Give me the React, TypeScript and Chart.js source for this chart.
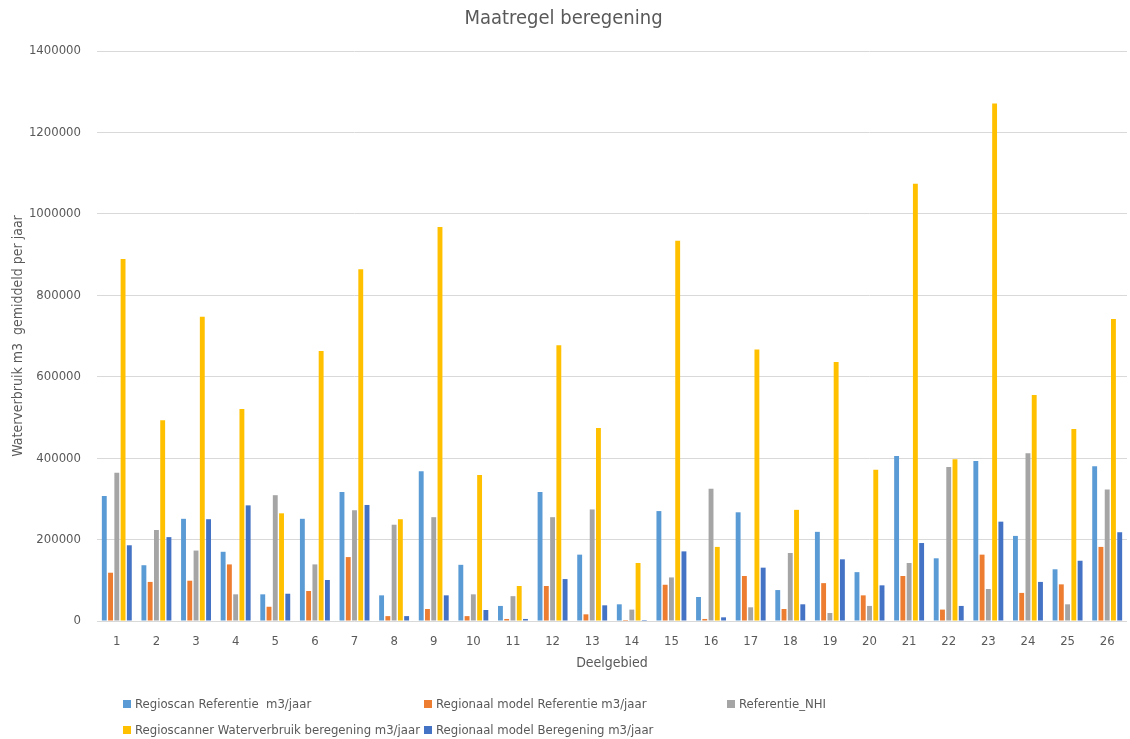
import React, { useEffect, useRef } from "react";
import { Chart, registerables } from "chart.js";

Chart.register(...registerables);

const categories = Array.from({ length: 26 }, (_, i) => String(i + 1));

const seriesNames = [
  "Regioscan Referentie  m3/jaar",
  "Regionaal model Referentie m3/jaar",
  "Referentie_NHI",
  "Regioscanner Waterverbruik beregening m3/jaar",
  "Regionaal model Beregening m3/jaar",
];

const seriesColors = ["#5B9BD5", "#ED7D31", "#A5A5A5", "#FFC000", "#4472C4"];

const regioscanReferentie = [
  307000, 137000, 251000, 170000, 65500, 251000, 317000, 63000, 368000, 138000,
  37000, 317000, 163000, 41000, 270000, 59000, 267000, 76000, 219000, 120000,
  405000, 154000, 393000, 209000, 127000, 380000,
];
const regionaalReferentie = [
  118600, 96000, 99000, 139000, 35000, 73700, 157000, 12000, 29500, 12000,
  5000, 86000, 16400, 2500, 89000, 5000, 110500, 29500, 93000, 63000,
  110500, 28000, 163000, 69000, 90000, 182000,
];
const referentieNHI = [
  364000, 223500, 173000, 65500, 309000, 139000, 272000, 236500, 255000, 65500,
  61000, 255000, 274000, 28000, 107000, 325000, 33600, 167000, 19600, 37000,
  142500, 378000, 78600, 412000, 41000, 323000,
];
const regioscannerBeregening = [
  889000, 493000, 747000, 521000, 264500, 663000, 864000, 250000, 968000, 358600,
  86000, 677000, 474000, 142500, 934000, 182000, 667000, 273000, 636000, 371700,
  1074000, 397000, 1271000, 555000, 471500, 742000,
];
const regionaalBeregening = [
  186000, 206000, 250000, 284000, 67000, 100700, 285000, 12000, 63000, 27000,
  5000, 103000, 38500, 2500, 171000, 9000, 131000, 41000, 151500, 87600,
  191500, 37000, 244000, 96000, 148000, 218000,
];

const allSeries = [
  regioscanReferentie,
  regionaalReferentie,
  referentieNHI,
  regioscannerBeregening,
  regionaalBeregening,
];

const yTicks = [0, 200000, 400000, 600000, 800000, 1000000, 1200000, 1400000];

const FONT = "'Liberation Sans Narrow', 'DejaVu Sans Condensed', sans-serif";
const TXT = "#595959";

export default function App() {
  const canvasRef = useRef<HTMLCanvasElement | null>(null);

  useEffect(() => {
    document.body.style.margin = "0";
    const canvas = canvasRef.current;
    if (!canvas) return;
    const chart = new Chart(canvas, {
      type: "bar",
      data: {
        labels: categories,
        datasets: allSeries.map((data, i) => ({
          label: seriesNames[i],
          data,
          backgroundColor: seriesColors[i],
          borderWidth: 0,
          categoryPercentage: 0.79,
          barPercentage: 0.78,
        })),
      },
      options: {
        responsive: false,
        animation: false,
        layout: { padding: { left: 0, right: 3, top: 0, bottom: 58 } },
        plugins: {
          legend: { display: false },
          tooltip: { enabled: false },
          title: {
            display: true,
            text: "Maatregel beregening",
            color: TXT,
            font: { family: FONT, size: 20, weight: "normal" },
            padding: { top: 7, bottom: 20 },
          },
        },
        scales: {
          x: {
            grid: { display: false, drawTicks: false },
            border: { display: false },
            ticks: {
              color: TXT,
              font: { family: FONT, size: 13 },
              padding: 13,
              maxRotation: 0,
            },
            title: {
              display: true,
              text: "Deelgebied",
              color: TXT,
              font: { family: FONT, size: 14 },
              padding: { top: 0, bottom: 9.6 },
            },
            afterFit: (scale: any) => {
              scale.height = 60;
            },
          },
          y: {
            min: 0,
            max: 1400000,
            afterBuildTicks: (scale: any) => {
              scale.ticks = yTicks.map((v) => ({ value: v }));
            },
            grid: { color: "#D9D9D9", lineWidth: 1, drawTicks: false },
            border: { display: false },
            ticks: {
              color: TXT,
              font: { family: FONT, size: 13 },
              padding: 16,
              callback: (v: any) => String(v),
            },
            title: {
              display: true,
              text: "Waterverbruik m3  gemiddeld per jaar",
              color: TXT,
              font: { family: FONT, size: 14 },
              padding: { top: 10, bottom: 0 },
            },
            afterFit: (scale: any) => {
              scale.width = 97;
            },
          },
        },
      },
    });
    return () => chart.destroy();
  }, []);

  const legendPos = [
    { x: 123, y: 704 },
    { x: 424, y: 704 },
    { x: 727, y: 704 },
    { x: 123, y: 730 },
    { x: 424, y: 730 },
  ];

  return (
    <div style={{ position: "relative", width: 1130, height: 739, overflow: "hidden" }}>
      <canvas ref={canvasRef} width={1130} height={739} style={{ display: "block" }} />
      {seriesNames.map((name, i) => (
        <div
          key={name}
          style={{
            position: "absolute",
            left: legendPos[i].x,
            top: legendPos[i].y - 8,
            height: 16,
            lineHeight: "16px",
            display: "flex",
            alignItems: "center",
            whiteSpace: "pre",
            fontFamily: FONT,
            fontSize: 13,
            color: TXT,
          }}
        >
          <span
            style={{
              display: "inline-block",
              width: 8,
              height: 8,
              background: seriesColors[i],
              marginRight: 4,
            }}
          />
          {name}
        </div>
      ))}
    </div>
  );
}
